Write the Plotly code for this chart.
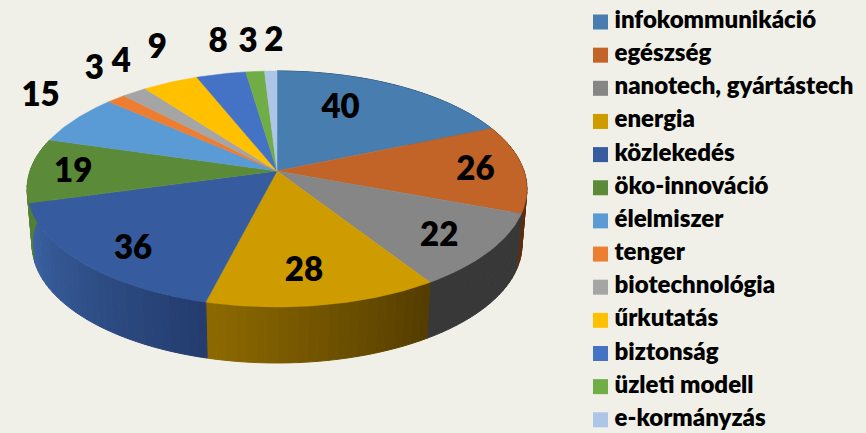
import math
import plotly.graph_objects as go

# ---- data ----
categories = ["infokommunikáció", "egészség", "nanotech, gyártástech", "energia", "közlekedés",
              "öko-innováció", "élelmiszer", "tenger", "biotechnológia", "űrkutatás",
              "biztonság", "üzleti modell", "e-kormányzás"]
values = [40, 26, 22, 28, 36, 19, 15, 3, 4, 9, 8, 3, 2]

# ---- styles ----
top_colors = ["#487DAF", "#C26428", "#868686", "#CF9C00", "#365C9F", "#5B8B39", "#5B9BD5",
              "#ED7D31", "#A5A5A5", "#FFC000", "#4472C4", "#70AD47", "#ADC5E6"]
# side wall colour at the clockwise start and end of each slice
side_colors = {
    0: ((40, 70, 100), (40, 70, 100)),
    1: ((92, 46, 16), (92, 46, 16)),
    2: ((56, 56, 56), (56, 56, 56)),
    3: ((84, 61, 0), (142, 106, 0)),
    4: ((36, 60, 110), (60, 100, 165)),
    5: ((84, 128, 52), (84, 128, 52)),
}
# label anchor: fraction of radius, then pixel nudge
label_radius = [.7, .7, .7, .7, .7, .7, 1, 1, 1, 1, 1, 1, 1]
label_nudge = [(-24, 1), (26, 3), (18, 12), (-4, 13), (-13, 17), (-31, 3), (-35, -21),
               (-22, -28), (-13, -28), (-13, -33), (-3, -30), (-7, -28), (3, -28)]

# ---- layout geometry (pixels): a perspective-projected disc ----
W, H = 866, 433
CX, CY = 277, 171
AX, AY, PERSP = 247, 115.25, .1525
DEPTH, BOTTOM_SCALE = 56, .98
BG = "#F0F0E8"
FONT = "Lato"


def project(theta_deg, r=1.0):
    t = math.radians(theta_deg)
    u, v = r * math.sin(t), r * math.cos(t)
    d = 1 + PERSP * v
    return CX + AX * u / d, CY - AY * v / d


def lower(theta_deg):
    x, y = project(theta_deg)
    return CX + (x - CX) * BOTTOM_SCALE, y + DEPTH


total = sum(values)
edges = [0]
for val in values:
    edges.append(edges[-1] + val / total * 360)

fig = go.Figure()

# side walls, as narrow facets so that the shading runs across them
for i, (c0, c1) in side_colors.items():
    a, b = edges[i], edges[i + 1]
    n = max(1, int((b - a) / 2))
    for j in range(n):
        t0 = a + (b - a) * j / n
        t1 = a + (b - a) * (j + 1) / n
        f = (j + .5) / n
        col = "rgb(%d,%d,%d)" % tuple(c0[k] + (c1[k] - c0[k]) * f for k in range(3))
        p = [project(t0), project(t1), lower(t1), lower(t0), project(t0)]
        fig.add_trace(go.Scatter(x=[q[0] for q in p], y=[q[1] for q in p], mode="lines",
                                 fill="toself", fillcolor=col, line=dict(color=col, width=1),
                                 hoverinfo="skip", showlegend=False))

# top faces
for i, cat in enumerate(categories):
    a, b = edges[i], edges[i + 1]
    n = max(2, int(b - a) + 1)
    rim = [project(a + (b - a) * j / n) for j in range(n + 1)]
    pts = [(CX, CY)] + rim + [(CX, CY)]
    fig.add_trace(go.Scatter(x=[q[0] for q in pts], y=[q[1] for q in pts], mode="lines",
                             fill="toself", fillcolor=top_colors[i],
                             line=dict(color=top_colors[i], width=.5),
                             name=cat, text=f"{cat}: {values[i]}", hoverinfo="text",
                             showlegend=False))

# value labels
lx, ly = [], []
for i in range(len(values)):
    x, y = project((edges[i] + edges[i + 1]) / 2, label_radius[i])
    lx.append(x + label_nudge[i][0])
    ly.append(y + label_nudge[i][1])
fig.add_trace(go.Scatter(x=lx, y=ly, mode="text", text=[str(v) for v in values],
                         textposition="middle center", hoverinfo="skip", showlegend=False,
                         textfont=dict(family=FONT, size=33, color="black", weight=800)))

# legend column
LEG_X, LEG_Y, LEG_STEP = 600.5, 22, 33.15
ys = [LEG_Y + i * LEG_STEP for i in range(len(categories))]
fig.add_trace(go.Scatter(x=[LEG_X] * len(categories), y=ys, mode="markers", hoverinfo="skip",
                         showlegend=False,
                         marker=dict(symbol="square", size=15, color=top_colors, line=dict(width=0))))
fig.add_trace(go.Scatter(x=[LEG_X + 14] * len(categories), y=ys, mode="text", text=categories,
                         textposition="middle right", hoverinfo="skip", showlegend=False,
                         textfont=dict(family=FONT, size=24, color="black", weight=800)))

fig.update_layout(width=W, height=H, margin=dict(l=0, r=0, t=0, b=0), autosize=False,
                  paper_bgcolor=BG, plot_bgcolor=BG, showlegend=False,
                  xaxis=dict(range=[0, W], visible=False, fixedrange=True),
                  yaxis=dict(range=[H, 0], visible=False, fixedrange=True))
fig.write_html("out.html", config={"displayModeBar": False},
               post_script="document.body.style.margin='0';")
